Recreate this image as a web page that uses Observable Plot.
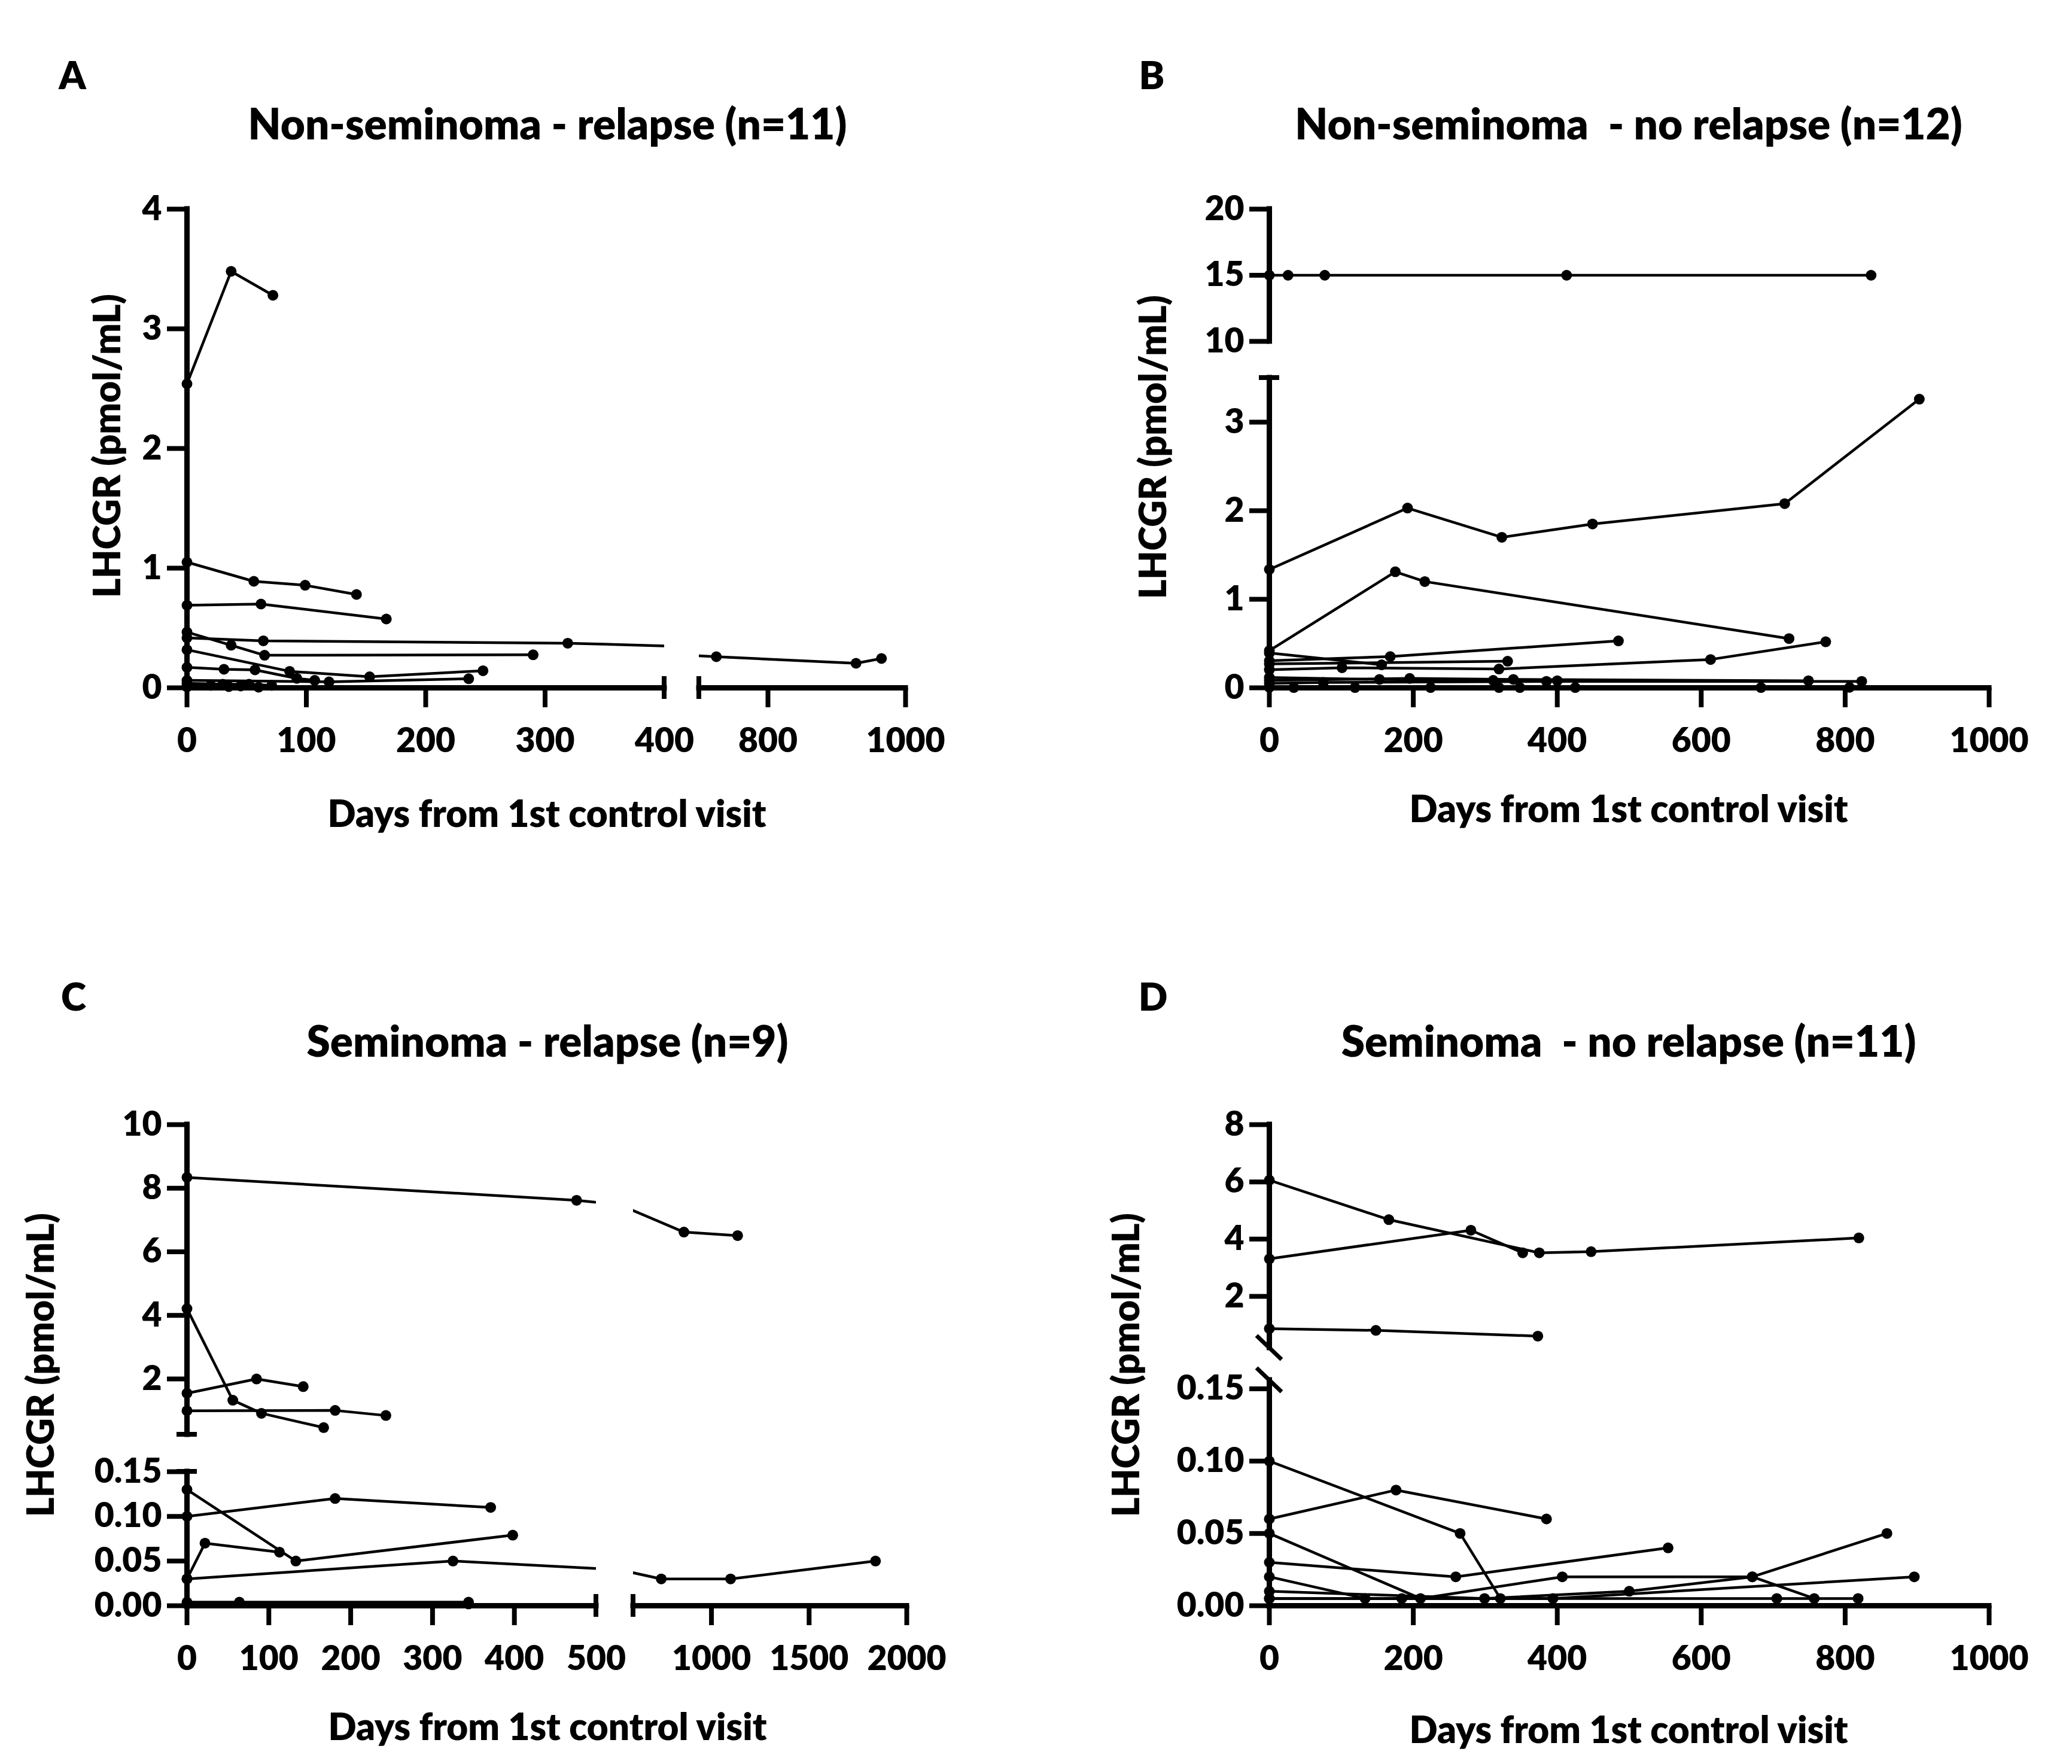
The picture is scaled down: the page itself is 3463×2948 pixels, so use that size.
<!DOCTYPE html>
<html>
<head>
<meta charset="utf-8">
<script src="https://cdn.jsdelivr.net/npm/d3@7"></script>
<script src="https://cdn.jsdelivr.net/npm/@observablehq/plot@0.6"></script>
<style>
  body { margin: 0; background: #fff; }
  #fig { position: relative; width: 3463px; height: 2948px; background: #fff; overflow: hidden; }
  #fig svg { position: absolute; }
</style>
</head>
<body>
<div id="fig"></div>
<script>
// values: one array per subject (days / LHCGR pmol/mL)
const aDays = [[0, 37, 72], [0, 56, 99, 142], [0, 62, 167], [0, 64, 319, 725, 928, 965], [0, 37, 65, 290],
  [0, 86, 153, 248], [0, 31, 57, 92, 107], [0, 119, 236], [0, 30, 52, 71], [0, 20, 45], [0, 35, 60]];
const aValues = [[2.54, 3.48, 3.28], [1.05, 0.89, 0.857, 0.78], [0.69, 0.70, 0.575], [0.418, 0.393, 0.373, 0.26, 0.205, 0.245],
  [0.466, 0.356, 0.272, 0.276], [0.318, 0.138, 0.092, 0.143], [0.171, 0.155, 0.15, 0.079, 0.062], [0.062, 0.05, 0.076],
  [0.037, 0.03, 0.03, 0.02], [0.02, 0.02, 0.015], [0.008, 0.01, 0.005]];

const bDays = [[0, 26, 77, 413, 836], [0, 192, 323, 449, 716, 903], [0, 175, 216, 722], [0, 168, 485], [0, 156], [0, 331],
  [0, 101, 319, 613, 773], [0, 153, 311, 400], [0, 195, 339, 749], [0, 75, 385, 823], [0, 34, 119, 224, 425], [0, 319, 348, 683, 806]];
const bValues = [[15, 15, 15, 15, 15], [1.337, 2.03, 1.70, 1.85, 2.08, 3.26], [0.42, 1.31, 1.20, 0.556], [0.305, 0.353, 0.53],
  [0.393, 0.26], [0.27, 0.30], [0.205, 0.227, 0.212, 0.32, 0.52], [0.117, 0.095, 0.084, 0.08], [0.084, 0.106, 0.095, 0.08],
  [0.05, 0.06, 0.073, 0.073], [0.018, 0.003, 0.003, 0.003, 0.003], [0.005, 0.003, 0.003, 0.003, 0.005]];

const cDays = [[0, 476, 859, 1134], [0, 56, 91, 167], [0, 85, 142], [0, 181, 243], [0, 133, 398], [0, 22, 113],
  [0, 181, 371], [0, 325, 743, 1098, 1840], [0, 64, 344], [0, 344]];
const cValues = [[8.34, 7.62, 6.62, 6.51], [4.21, 1.33, 0.92, 0.47], [1.55, 2.0, 1.76], [1.0, 1.01, 0.85], [0.13, 0.05, 0.079],
  [0.03, 0.07, 0.06], [0.10, 0.12, 0.11], [0.03, 0.05, 0.03, 0.03, 0.05], [0.004, 0.004, 0.004], [0.002, 0.002]];

const dDays = [[0, 166, 375, 447, 819], [0, 280, 352], [0, 148, 373], [0, 265, 321], [0, 176, 385], [0, 210, 407, 671, 757],
  [0, 259, 554], [0, 133, 184], [0, 299, 500, 671, 858], [0, 394, 896], [0, 705, 818]];
const dValues = [[6.06, 4.68, 3.52, 3.56, 4.04], [3.31, 4.31, 3.52], [0.87, 0.81, 0.61], [0.10, 0.05, 0.005], [0.06, 0.08, 0.06],
  [0.05, 0.005, 0.02, 0.02, 0.005], [0.03, 0.02, 0.04], [0.02, 0.005, 0.005], [0.01, 0.005, 0.01, 0.02, 0.05],
  [0.005, 0.005, 0.02], [0.005, 0.005, 0.005]];

const titles = ["Non-seminoma - relapse (n=11)", "Non-seminoma  - no relapse (n=12)", "Seminoma - relapse (n=9)", "Seminoma  - no relapse (n=11)"];
const letters = ["A", "B", "C", "D"];
const yTitle = "LHCGR (pmol/mL)";
const xTitle = "Days from 1st control visit";

function toRows(days, values) {
  return days.flatMap((ds, i) => ds.map((d, j) => ({id: i, day: d, value: values[i][j]})));
}

const FONT = "Lato, 'Open Sans', sans-serif";
const WEIGHT = 800;
const fig = document.getElementById("fig");
const intF = d3.format("d");
const decF = d3.format(".2f");

// one piece of a broken-axis panel
function segment(data, o) {
  const m = 170;
  const inside = d => d.day >= o.xDomain[0] && d.day <= o.xDomain[1] && d.value >= o.yDomain[0] && d.value <= o.yDomain[1];
  const marks = [
    Plot.line(data, {x: "day", y: "value", z: "id", stroke: "black", strokeWidth: 4.5, clip: true}),
    Plot.dot(data.filter(inside), {x: "day", y: "value", r: 9, fill: "black"})
  ];
  if (o.xTicks) {
    marks.push(Plot.ruleY([o.yDomain[0]], {strokeWidth: 9, strokeLinecap: "square"}));
    marks.push(Plot.axisX({ticks: o.xTicks, tickSize: 33, strokeWidth: 8, tickFormat: () => "", label: null}));
    marks.push(Plot.axisX({ticks: o.xLabels || o.xTicks, tickSize: 0, tickPadding: 67, label: null,
      fontSize: 57, fontWeight: WEIGHT, fontFamily: FONT, fill: "black", tickFormat: intF}));
  }
  if (o.yTicks) {
    marks.push(Plot.ruleX([o.xDomain[0]], {strokeWidth: 9, strokeLinecap: "square"}));
    marks.push(Plot.axisY({ticks: o.yTicks, tickSize: 33, strokeWidth: 8, tickFormat: () => "", label: null}));
    marks.push(Plot.axisY({ticks: o.yTicks, tickSize: 0, tickPadding: 42, label: null,
      fontSize: 57, fontWeight: WEIGHT, fontFamily: FONT, fill: "black", tickFormat: o.yFormat || intF}));
  }
  const svg = Plot.plot({
    width: o.x1 - o.x0 + 2 * m, height: o.y1 - o.y0 + 2 * m,
    marginLeft: m, marginRight: m, marginTop: m, marginBottom: m,
    x: {domain: o.xDomain, axis: null, label: null},
    y: {domain: o.yDomain, axis: null, label: null},
    style: {background: "none", overflow: "visible", maxWidth: "none", fontFamily: FONT, fontWeight: WEIGHT},
    marks
  });
  svg.style.left = (o.x0 - m) + "px";
  svg.style.top = (o.y0 - m) + "px";
  const sx = svg.scale("x"), sy = svg.scale("y");
  const g = d3.select(svg).append("g").attr("stroke", "black").attr("stroke-width", 8);
  const bottom = o.y1 - o.y0 + m;
  (o.xCaps || []).forEach(v => g.append("line")
    .attr("x1", sx.apply(v)).attr("x2", sx.apply(v)).attr("y1", bottom - 19).attr("y2", bottom + 19));
  (o.yCaps || []).forEach(v => g.append("line")
    .attr("x1", m - 17).attr("x2", m + 17).attr("y1", sy.apply(v)).attr("y2", sy.apply(v)));
  if (o.slashBottom) g.append("line").attr("stroke-width", 7)
    .attr("x1", m - 21).attr("y1", bottom - 20).attr("x2", m + 21).attr("y2", bottom + 20);
  if (o.slashTop) g.append("line").attr("stroke-width", 7)
    .attr("x1", m - 21).attr("y1", m - 20).attr("x2", m + 21).attr("y2", m + 20);
  fig.appendChild(svg);
}

const A = toRows(aDays, aValues), B = toRows(bDays, bValues), C = toRows(cDays, cValues), D = toRows(dDays, dValues);

// panel A
segment(A, {xDomain: [0, 400], yDomain: [0, 4], x0: 312, x1: 1110, y0: 349, y1: 1149,
  xTicks: [0, 100, 200, 300], xLabels: [0, 100, 200, 300, 400], xCaps: [400], yTicks: [0, 1, 2, 3, 4]});
segment(A, {xDomain: [700, 1000], yDomain: [0, 4], x0: 1168, x1: 1513, y0: 349, y1: 1149,
  xTicks: [800, 1000], xCaps: [700]});
// panel B
segment(B, {xDomain: [0, 1000], yDomain: [10, 20], x0: 2121, x1: 3324, y0: 349, y1: 570, yTicks: [10, 15, 20]});
segment(B, {xDomain: [0, 1000], yDomain: [0, 3.5], x0: 2121, x1: 3324, y0: 631, y1: 1149,
  xTicks: [0, 200, 400, 600, 800, 1000], yTicks: [0, 1, 2, 3], yCaps: [3.5]});
// panel C
segment(C, {xDomain: [0, 500], yDomain: [0.25, 10], x0: 312, x1: 996, y0: 1879, y1: 2397,
  yTicks: [2, 4, 6, 8, 10], yCaps: [0.25]});
segment(C, {xDomain: [600, 2000], yDomain: [0.25, 10], x0: 1058, x1: 1515, y0: 1879, y1: 2397});
segment(C, {xDomain: [0, 500], yDomain: [0, 0.15], x0: 312, x1: 996, y0: 2459, y1: 2683,
  xTicks: [0, 100, 200, 300, 400], xLabels: [0, 100, 200, 300, 400, 500], xCaps: [500],
  yTicks: [0, 0.05, 0.10, 0.15], yFormat: decF, yCaps: [0.15]});
segment(C, {xDomain: [600, 2000], yDomain: [0, 0.15], x0: 1058, x1: 1515, y0: 2459, y1: 2683,
  xTicks: [1000, 1500, 2000], xCaps: [600]});
// panel D
segment(D, {xDomain: [0, 1000], yDomain: [0.2, 8], x0: 2121, x1: 3324, y0: 1879, y1: 2252,
  yTicks: [2, 4, 6, 8], slashBottom: true});
segment(D, {xDomain: [0, 1000], yDomain: [0, 0.156], x0: 2121, x1: 3324, y0: 2306, y1: 2683,
  xTicks: [0, 200, 400, 600, 800, 1000], yTicks: [0, 0.05, 0.10, 0.15], yFormat: decF, slashTop: true});

// titles and axis titles
const text = d3.select(fig).insert("svg", ":first-child").attr("width", 3463).attr("height", 2948)
  .style("left", "0px").style("top", "0px")
  .attr("font-family", FONT).attr("font-weight", WEIGHT).attr("fill", "black");
const spots = [
  {letter: [121, 124], title: [915, 205], xt: [914, 1358], yt: [177, 745]},
  {letter: [1925, 124], title: [2722, 205], xt: [2722, 1350], yt: [1925, 747]},
  {letter: [123, 1664], title: [915, 1738], xt: [915, 2884], yt: [66, 2281]},
  {letter: [1927, 1664], title: [2722, 1738], xt: [2722, 2889], yt: [1880, 2281]}
];
spots.forEach((s, i) => {
  text.append("text").attr("x", s.letter[0]).attr("y", s.letter[1]).attr("text-anchor", "middle")
    .attr("dominant-baseline", "central").attr("font-size", 64).text(letters[i]);
  text.append("text").attr("x", s.title[0]).attr("y", s.title[1]).attr("text-anchor", "middle")
    .attr("dominant-baseline", "central").attr("font-size", 71).style("white-space", "pre").text(titles[i]);
  text.append("text").attr("x", s.xt[0]).attr("y", s.xt[1]).attr("text-anchor", "middle")
    .attr("dominant-baseline", "central").attr("font-size", 62).text(xTitle);
  text.append("text").attr("transform", `translate(${s.yt[0]},${s.yt[1]}) rotate(-90)`).attr("text-anchor", "middle")
    .attr("dominant-baseline", "central").attr("font-size", 62).text(yTitle);
});
</script>
</body>
</html>
